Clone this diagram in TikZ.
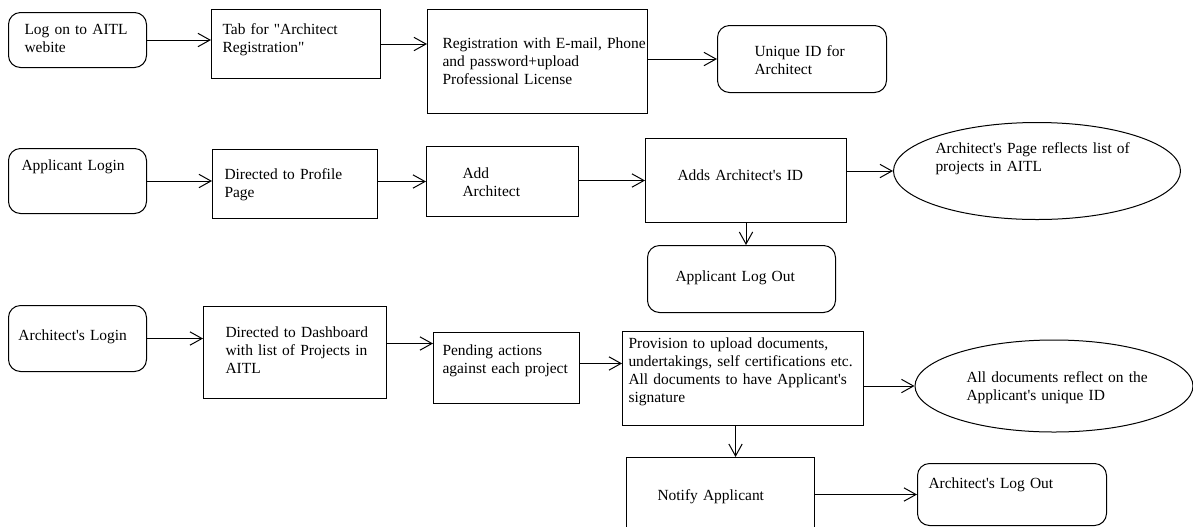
\documentclass[tikz,border=0pt]{standalone}
\usepackage{fontspec}
\setmainfont{Liberation Serif}[Ligatures=TeXOff]
\usetikzlibrary{shapes.geometric,arrows.meta}

\begin{document}
\begin{tikzpicture}[x=0.75pt, y=-0.75pt, line width=0.75pt,
    >={Straight Barb[length=9pt,width=10pt]},
    box/.style 2 args={draw, rectangle, anchor=north west, inner sep=0pt,
        minimum width=#1*0.75pt, minimum height=#2*0.75pt},
    rbox/.style 2 args={box={#1}{#2}, rounded corners=9pt},
    ell/.style 2 args={draw, ellipse, inner sep=0pt,
        minimum width=#1*0.75pt, minimum height=#2*0.75pt},
    txt/.style={anchor=base west, inner sep=0pt, text width=190pt, align=left,
        font=\fontsize{11.6}{13.7}\selectfont}]
\useasboundingbox (0,0) rectangle (1193,526);
\fill[white] (0,0) rectangle (1193,526);
\clip (0,0) rectangle (1193,526);

% registration of the architect
\node[rbox={138}{55}] (logon) at (8,12) {};
\node[txt] (logon-t) at (24,34) {Log on to AITL\\webite};
\node[box={169}{69}] (tab) at (211,9) {};
\node[txt] (tab-t) at (222,34) {Tab for "Architect\\Registration"};
\node[box={220}{104}] (reg) at (427,9) {};
\node[txt] (reg-t) at (442,48) {Registration with E-mail, Phone\\and password+upload\\Professional License};
\node[rbox={169}{67}] (uid) at (717,25) {};
\node[txt] (uid-t) at (754,56) {Unique ID for\\Architect};

% applicant side
\node[rbox={138}{65}] (applogin) at (8,148) {};
\node[txt] (applogin-t) at (21,170) {Applicant Login};
\node[box={165}{69}] (profile) at (212,149) {};
\node[txt] (profile-t) at (224,179) {Directed to Profile\\Page};
\node[box={152}{70}] (addarch) at (426,146) {};
\node[txt] (addarch-t) at (462,178) {Add\\Architect};
\node[box={201}{84}] (addsid) at (645,138) {};
\node[txt] (addsid-t) at (677,180) {Adds Architect's ID};
\node[ell={287}{97}] (archpage) at (1037,171) {};
\node[txt] (archpage-t) at (935,153) {Architect's Page reflects list of\\projects in AITL};
\node[rbox={188}{67}] (applogout) at (647,245) {};
\node[txt] (applogout-t) at (675,281) {Applicant Log Out};

% architect side
\node[rbox={138}{66}] (archlogin) at (8,305) {};
\node[txt] (archlogin-t) at (18,340) {Architect's Login};
\node[box={183}{92}] (dash) at (203,306) {};
\node[txt] (dash-t) at (225,337) {Directed to Dashboard\\with list of Projects in\\AITL};
\node[box={146}{71}] (pend) at (433,332) {};
\node[txt] (pend-t) at (442,355) {Pending actions\\against each project};
\node[box={241}{94}] (prov) at (622,331) {};
\node[txt] (prov-t) at (628,348) {Provision to upload documents,\\undertakings, self certifications etc.\\All documents to have Applicant's\\signature};
\node[ell={278}{92}] (alldocs) at (1054,386) {};
\node[txt] (alldocs-t) at (966,382) {All documents reflect on the\\Applicant's unique ID};
\node[box={188}{110}] (notify) at (626,457) {};
\node[txt] (notify-t) at (657,500) {Notify Applicant};
\node[rbox={189}{62}] (archlogout) at (917,463) {};
\node[txt] (archlogout-t) at (928,488) {Architect's Log Out};

% connectors
\draw[->] (logon.east) -- (logon.east -| tab.west);
\draw[->] (tab.east) -- (tab.east -| reg.west);
\draw[->] (reg.east |- uid.west) -- (uid.west);
\draw[->] (applogin.east) -- (applogin.east -| profile.west);
\draw[->] (profile.east |- addarch.west) -- (addarch.west);
\draw[->] (addarch.east |- addsid.west) -- (addsid.west);
\draw[->] (addsid.east |- archpage.west) -- (archpage.west);
\draw[->] (addsid.south) -- (addsid.south |- applogout.north);
\coordinate (dash-out) at ([yshift=6.75pt]dash.east);
\coordinate (pend-out) at ([yshift=3.4pt]pend.east);
\coordinate (prov-down) at ([xshift=-5.6pt]prov.south);
\draw[->] (archlogin.east) -- (archlogin.east -| dash.west);
\draw[->] (dash-out) -- (dash-out -| pend.west);
\draw[->] (pend-out) -- (pend-out -| prov.west);
\draw[->] (prov.east |- alldocs.west) -- (alldocs.west);
\draw[->] (prov-down) -- (prov-down |- notify.north);
\draw[->] (notify.east |- archlogout.west) -- (archlogout.west);
\end{tikzpicture}
\end{document}
